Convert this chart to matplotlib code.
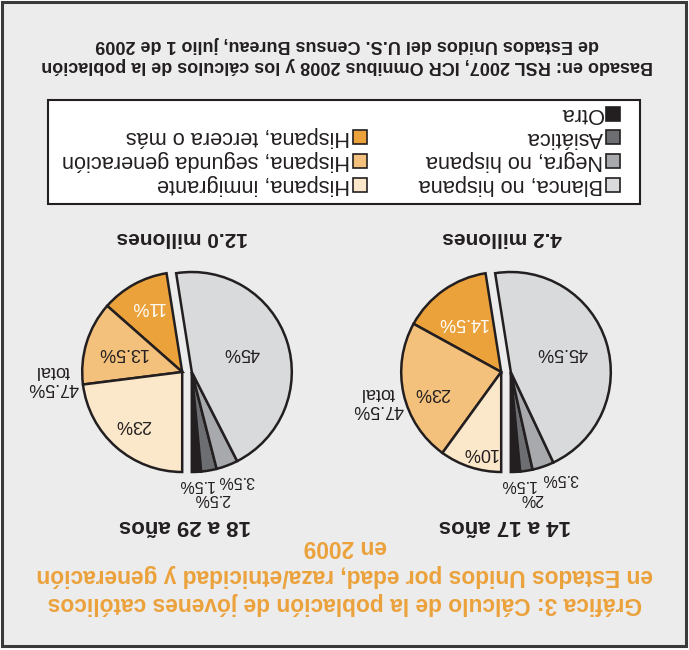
import matplotlib.pyplot as plt
from matplotlib.patches import Rectangle

plt.rcParams['font.family'] = ['Liberation Sans', 'DejaVu Sans']

W, H = 689, 650

# data (the chart is printed upside down, so positions below are as seen)
groups = ['Otra', 'Asiática', 'Negra, no hispana', 'Blanca, no hispana',
          'Hispana, tercera o más', 'Hispana, segunda generación', 'Hispana, inmigrante']
colors = ['#231f20', '#6d6e71', '#a7a9ac', '#d9dadc', '#eba23b', '#f4c17c', '#fbe7ca']
is_hispanic = [False, False, False, False, True, True, True]

teen_values = [1.5, 2, 3.5, 45.5, 14.5, 23, 10]
adult_values = [1.5, 2.5, 3.5, 45, 11, 13.5, 23]
hispanic_total = '47.5%\ntotal'
age_groups = ['14 a 17 años', '18 a 29 años']
populations = ['4.2 millones', '12.0 millones']
title = ('Gráfica 3: Cálculo de la población de jóvenes católicos\n'
         'en Estados Unidos por edad, raza/etnicidad y generación\nen 2009')
source = ('Basado en: RSL 2007, ICR Omnibus 2008 y los cálculos de la población\n'
          'de Estados Unidos del U.S. Census Bureau, julio 1 de 2009')

# layout (pixels, from top-left of the picture as shown)
pie_centers = [(506, 372), (187, 372)]
teen_label_xy = [(517, 485), (532, 499), (560, 479), (562, 353), (462, 323), (432, 392), (480, 452)]
adult_label_xy = [(195, 484), (212, 499), (236, 481), (242, 353), (147, 307), (122, 353), (133, 425)]
total_xy = [(378, 401), (53, 379)]

DARK = '#231f20'
ORANGE = '#eba23b'

fig = plt.figure(figsize=(W / 100, H / 100), dpi=100, facecolor='white')

ax_b = fig.add_axes([0, 0, 1, 1], zorder=0)
ax_b.set_xlim(0, W)
ax_b.set_ylim(H, 0)
ax_b.axis('off')
ax_b.add_patch(Rectangle((2, 2), 684, 644, facecolor='#ececec', edgecolor='#3a3a3a', lw=2.2))

# legend box
ax_b.add_patch(Rectangle((48, 100), 592, 104, facecolor='white', edgecolor=DARK, lw=1.5))

ax_t = fig.add_axes([0, 0, 1, 1], zorder=5)
ax_t.set_xlim(0, W)
ax_t.set_ylim(H, 0)
ax_t.axis('off')


def flip(x, y, s, ha='center', va='center', **kw):
    ax_t.text(x, y, s, rotation=180, ha=ha, va=va, color=kw.pop('color', DARK), **kw)


# legend entries: two columns, rows go upward on the page
legend_cols = {False: 606, True: 353}
row_y = [185, 161, 137, 114]
legend_order = [3, 2, 1, 0, 6, 5, 4]
for i in legend_order:
    col = legend_cols[is_hispanic[i]]
    same = [j for j in legend_order if is_hispanic[j] == is_hispanic[i]]
    y = row_y[same.index(i)]
    ax_b.add_patch(Rectangle((col, y - 7), 14, 14, facecolor=colors[i], edgecolor=DARK, lw=1.2))
    flip(col - 3, y, groups[i], ha='right', fontsize=15.7)


def draw_pie(center, values, label_xy):
    cx, cy = center
    ax = fig.add_axes([(cx - 130) / W, (H - cy - 130) / H, 260 / W, 260 / H], zorder=2)
    wedges, _ = ax.pie(values, colors=colors, startangle=270, counterclock=True,
                       wedgeprops=dict(edgecolor=DARK, linewidth=1.8))
    ax.set_xlim(-1.3, 1.3)
    ax.set_ylim(-1.3, 1.3)
    for w, h in zip(wedges, is_hispanic):
        w.set_center((-0.048, 0) if h else (0.048, 0))
    for k, (v, (x, y)) in enumerate(zip(values, label_xy)):
        size = 11.5 if k < 3 else 13
        flip(x, y, f'{v:g}%', fontsize=size, color='white' if k == 4 else DARK)


draw_pie(pie_centers[0], teen_values, teen_label_xy)
draw_pie(pie_centers[1], adult_values, adult_label_xy)

for (x, y) in total_xy:
    flip(x, y, hispanic_total, fontsize=13, linespacing=0.95)

flip(502, 237, populations[0], fontsize=15, fontweight='bold')
flip(182, 237, populations[1], fontsize=15, fontweight='bold')
flip(505, 525, age_groups[0], fontsize=16, fontweight='bold')
flip(185, 525, age_groups[1], fontsize=16, fontweight='bold')

flip(345, 575, title, fontsize=16.4, fontweight='bold', color=ORANGE, linespacing=1.28,
     multialignment='center')
flip(347, 55, source, fontsize=13, fontweight='bold', linespacing=1.25, multialignment='center')

fig.savefig('out.png', dpi=100, facecolor='white')
